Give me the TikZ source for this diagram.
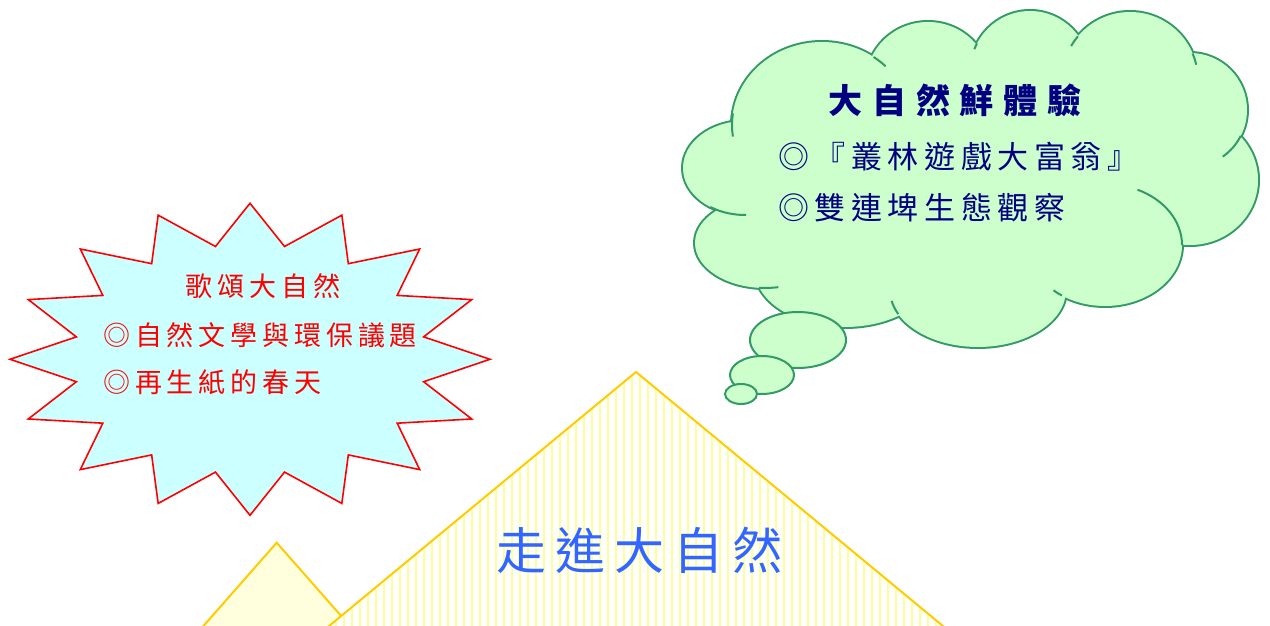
\documentclass[tikz,border=0pt]{standalone}
\usepackage{fontspec}
\setmainfont{Noto Sans CJK TC}

\definecolor{burstfill}{HTML}{CCFFFF}
\definecolor{cloudfill}{HTML}{CCFFCC}
\definecolor{cloudline}{HTML}{339966}
\definecolor{hillline}{HTML}{FFCC00}
\definecolor{hillhatch}{HTML}{FFFF99}
\definecolor{hillfill}{HTML}{FFFFDD}
\definecolor{navytext}{HTML}{000080}
\definecolor{walktext}{HTML}{3366FF}

\tikzset{
  burst/.style={draw=red, fill=burstfill, line width=1.6pt, line join=miter},
  lobeedge/.style={draw=cloudline, line width=4pt},
  lobetail/.style={draw=cloudline, line width=2pt},
  bubble/.style={draw=cloudline, fill=cloudfill, line width=2pt},
  hill/.style={draw=hillline, line width=2pt, line join=miter},
  hatch/.style={draw=hillhatch, line width=2.4pt},
  redtext/.style={inner sep=0pt, text=red, font=\fontsize{27}{32}\selectfont\addfontfeature{LetterSpace=18}},
  navytitle/.style={inner sep=0pt, text=navytext, font=\fontsize{34}{40}\selectfont\bfseries\addfontfeature{LetterSpace=29}},
  navytext/.style={inner sep=0pt, text=navytext, font=\fontsize{31}{36}\selectfont\addfontfeature{LetterSpace=18}},
  walkfont/.style={inner sep=0pt, text=walktext, font=\fontsize{50}{56}\selectfont\addfontfeature{LetterSpace=18}}
}

\begin{document}
\begin{tikzpicture}[x=1pt, y=1pt]
    \useasboundingbox (0,0) rectangle (1270,626);

    \begin{scope}[shift={(250,266.7)}]
      \draw [burst] (90:240 and 156)
        \foreach \k in {1,...,16} {
          -- ({101.25-22.5*\k}:177 and 115) -- ({90-22.5*\k}:240 and 156)
        } -- cycle;
    \end{scope}
    \node [redtext] (songtitle) at (263,340) {歌頌大自然};
    \node [redtext, anchor=west] (songa) at (103,291) {◎自然文學與環保議題};
    \node [redtext, anchor=west] (songb) at (103,244) {◎再生紙的春天};

    \foreach \cx/\cy/\rx/\ry in {745/458/62/47, 822/501/90/83, 928/544/62/60, 1030/554/60/61,
        1130/546/68/68, 1190/516/57/57, 1190/446/68/65, 1105/381/77/61, 978/336/88/57,
        845/356/90/57, 765/383/70/45}
      \draw [lobeedge] (\cx,\cy) ellipse [x radius=\rx, y radius=\ry];
    \foreach \cx/\cy/\rx/\ry in {745/458/62/47, 822/501/90/83, 928/544/62/60, 1030/554/60/61,
        1130/546/68/68, 1190/516/57/57, 1190/446/68/65, 1105/381/77/61, 978/336/88/57,
        845/356/90/57, 765/383/70/45, 965/441/230/110}
      \fill [cloudfill] (\cx,\cy) ellipse [x radius=\rx, y radius=\ry];
    \foreach \cx/\cy/\rx/\ry/\a/\b in {822/501/90/83/172/188, 822/501/90/83/55/45,
        1030/554/60/61/152/158, 1130/546/68/68/140/150, 1130/546/68/68/23/13,
        1190/516/57/57/-27/-55, 1105/381/77/61/0/65, 1105/381/77/61/236/228,
        978/336/88/57/205/191, 765/383/70/45/265/281, 745/458/62/47/236/271}
      \draw [lobetail] (\cx,\cy) ++({\rx*cos(\a)},{\ry*sin(\a)})
        arc [start angle=\a, end angle=\b, x radius=\rx, y radius=\ry];

    \node [navytitle] (tourtitle) at (955,526) {大自然鮮體驗};
    \node [navytext, anchor=west] (toura) at (778,469) {◎『叢林遊戲大富翁』};
    \node [navytext, anchor=west] (tourb) at (778,418) {◎雙連埤生態觀察};

    \draw [bubble] (798,286) ellipse [x radius=48, y radius=28];
    \draw [bubble] (762,251) ellipse [x radius=32, y radius=19];
    \draw [bubble] (741,232) ellipse [x radius=16, y radius=10];

    \draw [hill, fill=hillfill] (194.6,-10) -- (276.7,83.3) -- (358.8,-10);
    \fill [white] (317,-10) -- (636,254) -- (955,-10) -- cycle;
    \begin{scope}
      \clip (317,-10) -- (636,254) -- (955,-10) -- cycle;
      \foreach \x in {320,328,...,952}
        \draw [hatch] (\x,-10) -- (\x,260);
    \end{scope}
    \draw [hill] (317,-10) -- (636,254) -- (955,-10);
    \node [walkfont] (walk) at (639,76) {走進大自然};
\end{tikzpicture}
\end{document}
